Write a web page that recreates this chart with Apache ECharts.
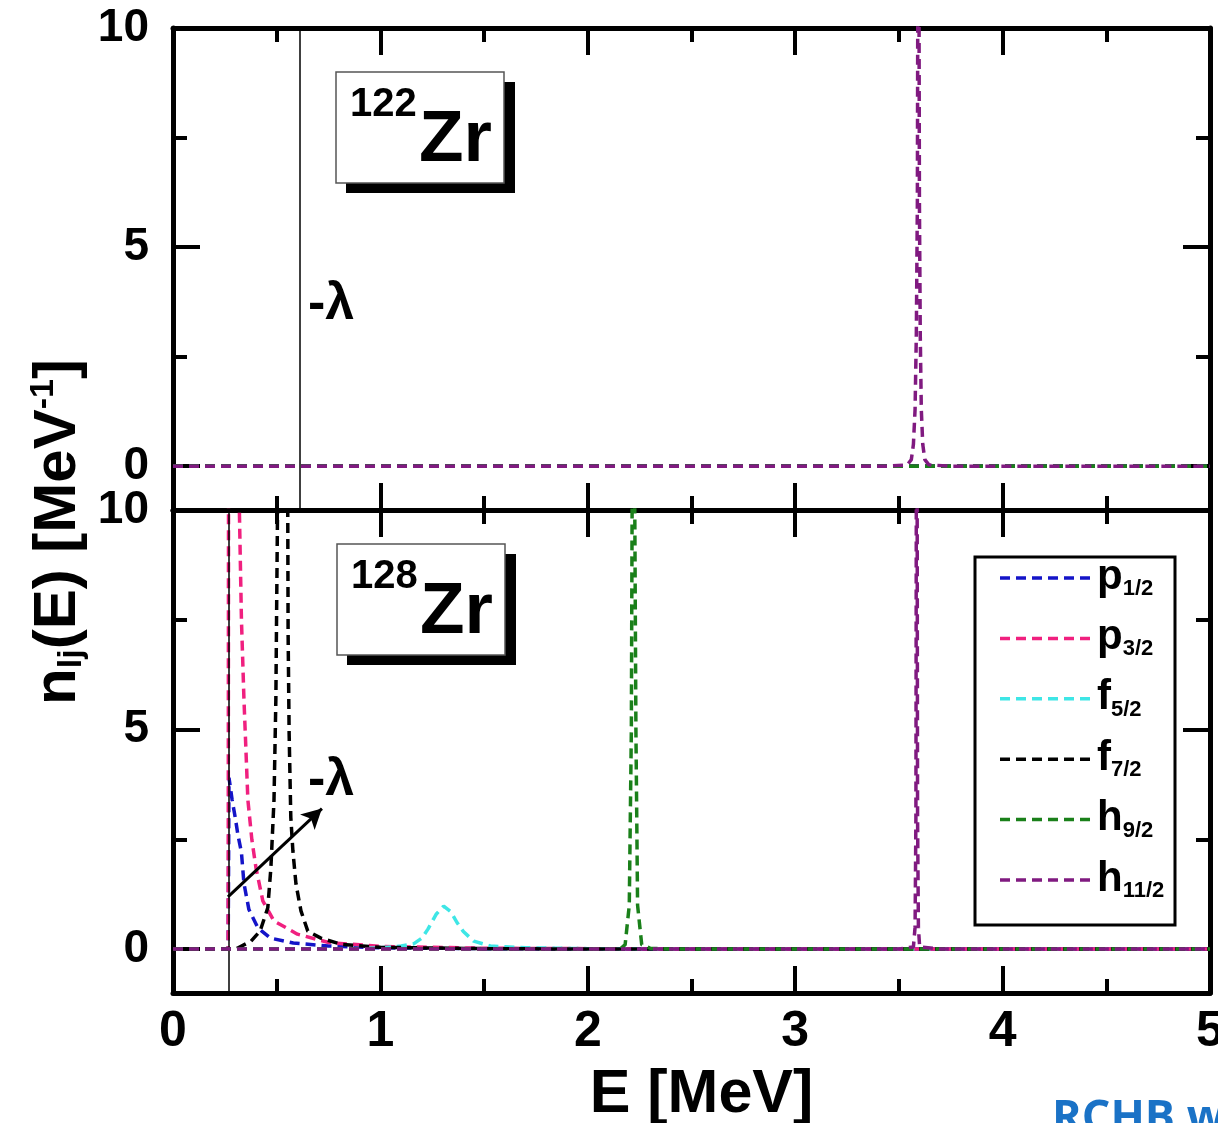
<!DOCTYPE html>
<html>
<head>
<meta charset="utf-8">
<script src="https://cdn.jsdelivr.net/npm/echarts@6/dist/echarts.min.js"></script>
<style>
  html, body { margin: 0; padding: 0; background: #fff; }
  #chart { width: 1218px; height: 1123px; }
</style>
</head>
<body>
<div id="chart"></div>
<script>
// ---- data ----
const orbitals = ["p", "p", "f", "f", "h", "h"];
const orbitalJ = ["1/2", "3/2", "5/2", "7/2", "9/2", "11/2"];
const orbitalColors = ["#1414c8", "#f0207f", "#3ee6e6", "#000000", "#1a801a", "#801a80"];

const yTicks = [0, 5, 10];
const yMinorTicks = [2.5, 7.5];

// -lambda positions [MeV]
const lambda122 = 0.607;
const lambda128 = 0.268;
const arrow128 = [[0.265, 1.19], [0.718, 3.2]];

// 122Zr: only h11/2 has a resonance, the rest lie on zero
const zr122_p12 = [[0, 0], [5, 0]];
const zr122_p32 = [[0, 0], [5, 0]];
const zr122_f52 = [[0, 0], [5, 0]];
const zr122_f72 = [[0, 0], [5, 0]];
const zr122_h92 = [[0, 0], [5, 0]];
const zr122_h112 = [[0, 0], [3.45, 0], [3.54, 0.03], [3.56, 0.15], [3.57, 0.5], [3.578, 1.3],
  [3.584, 3], [3.589, 6], [3.591, 10.5], [3.594, 20], [3.597, 10.5], [3.599, 6], [3.603, 3],
  [3.608, 1.3], [3.615, 0.5], [3.625, 0.15], [3.645, 0.03], [3.75, 0], [5, 0]];

// 128Zr
const zr128_p12 = [[0, 0], [0.266, 0], [0.27, 3.9], [0.285, 3.4], [0.30, 3.0], [0.313, 2.6],
  [0.33, 2.2], [0.342, 1.5], [0.366, 0.9], [0.41, 0.48], [0.47, 0.25], [0.58, 0.14],
  [0.75, 0.07], [1.0, 0.03], [1.5, 0.01], [2.0, 0], [5, 0]];
const zr128_p32 = [[0, 0], [0.266, 0], [0.268, 12], [0.29, 16], [0.318, 10.5], [0.33, 7.5],
  [0.342, 5.7], [0.361, 3.4], [0.38, 2.5], [0.40, 1.85], [0.433, 1.1], [0.487, 0.64],
  [0.60, 0.34], [0.75, 0.15], [1.0, 0.06], [1.5, 0.02], [2.5, 0], [5, 0]];
const zr128_f52 = [[0, 0], [0.8, 0], [1.0, 0.03], [1.1, 0.07], [1.16, 0.12], [1.2, 0.25],
  [1.23, 0.46], [1.27, 0.8], [1.305, 0.98], [1.34, 0.85], [1.37, 0.6], [1.40, 0.4],
  [1.45, 0.18], [1.53, 0.07], [1.7, 0.03], [2.0, 0.01], [2.5, 0], [5, 0]];
const zr128_f72 = [[0, 0], [0.3, 0], [0.31, 0.02], [0.376, 0.18], [0.42, 0.41], [0.457, 0.94],
  [0.472, 1.85], [0.487, 3.4], [0.496, 5.7], [0.50, 7.9], [0.505, 10.5], [0.53, 16],
  [0.553, 10.5], [0.555, 7.2], [0.56, 4.9], [0.568, 3.0], [0.578, 2.24], [0.593, 1.48],
  [0.617, 0.87], [0.65, 0.41], [0.713, 0.25], [0.81, 0.11], [1.0, 0.04], [1.5, 0.01],
  [2.0, 0], [5, 0]];
const zr128_h92 = [[0, 0], [2.1, 0], [2.16, 0.02], [2.18, 0.1], [2.2, 1.0], [2.21, 5],
  [2.214, 10.5], [2.22, 20], [2.226, 10.5], [2.232, 5], [2.24, 1.0], [2.26, 0.1],
  [2.3, 0.02], [2.4, 0], [5, 0]];
const zr128_h112 = [[0, 0], [3.5, 0], [3.57, 0.05], [3.578, 0.5], [3.582, 3], [3.584, 10.5],
  [3.586, 20], [3.588, 10.5], [3.590, 3], [3.594, 0.5], [3.60, 0.05], [3.7, 0], [5, 0]];

const zr122 = [zr122_p12, zr122_p32, zr122_f52, zr122_f72, zr122_h92, zr122_h112];
const zr128 = [zr128_p12, zr128_p32, zr128_f52, zr128_f72, zr128_h92, zr128_h112];

// ---- chart ----
const myChart = echarts.init(document.getElementById("chart"), null, { renderer: "canvas" });

const FONT = '"Liberation Sans", Arial, sans-serif';
const AXIS_W = 5;
const DASH = [10, 6];

// x axes: bottom + top for each panel
const makeX = (grid, position, labels) => ({
  type: "value",
  gridIndex: grid,
  position: position,
  min: 0,
  max: 5,
  interval: 1,
  axisLine: { show: true, onZero: false, lineStyle: { color: "#000", width: AXIS_W } },
  axisTick: { show: true, inside: true, length: 27, lineStyle: { color: "#000", width: 4 } },
  minorTick: { show: true, splitNumber: 2, length: 14, lineStyle: { color: "#000", width: 4 } },
  splitLine: { show: false },
  axisLabel: {
    show: labels,
    margin: 14,
    color: "#000",
    fontFamily: FONT,
    fontWeight: "bold",
    fontSize: 50,
  },
  name: labels ? "E [MeV]" : "",
  nameLocation: "middle",
  nameGap: 72,
  nameTextStyle: { color: "#000", fontFamily: FONT, fontWeight: "bold", fontSize: 61, padding: [0, 0, 0, 20] },
});

// y axes: major/minor ticks on left and right of each panel
const makeY = (grid, position, ticks, major, labels) => ({
  type: "value",
  gridIndex: grid,
  position: position,
  min: -1,
  max: 10,
  axisLine: { show: major, onZero: false, lineStyle: { color: "#000", width: AXIS_W } },
  axisTick: {
    show: true,
    inside: true,
    customValues: ticks,
    length: major ? 27 : 14,
    lineStyle: { color: "#000", width: 4 },
  },
  splitLine: { show: false },
  axisLabel: {
    show: labels,
    customValues: yTicks,
    margin: 24,
    color: "#000",
    fontFamily: FONT,
    fontWeight: "bold",
    fontSize: 46,
  },
});

const xAxes = [makeX(0, "bottom", false), makeX(0, "top", false), makeX(1, "bottom", true), makeX(1, "top", false)];
const yAxes = [];
[0, 1].forEach((g) => {
  yAxes.push(makeY(g, "left", yTicks, true, true));
  yAxes.push(makeY(g, "left", yMinorTicks, false, false));
  yAxes.push(makeY(g, "right", yTicks, true, false));
  yAxes.push(makeY(g, "right", yMinorTicks, false, false));
});

const series = [];
const panels = [zr122, zr128];
panels.forEach((panel, g) => {
  panel.forEach((pts, i) => {
    series.push({
      type: "line",
      name: orbitals[i] + orbitalJ[i],
      xAxisIndex: g * 2,
      yAxisIndex: g * 4,
      data: pts,
      symbol: "none",
      clip: true,
      lineStyle: { color: orbitalColors[i], width: 3.5, type: DASH },
      itemStyle: { color: orbitalColors[i] },
      z: 3 + i,
    });
  });
});

// -lambda line in each panel, arrow in the lower one
series[0].markLine = {
  silent: true,
  symbol: "none",
  label: { show: false },
  lineStyle: { color: "#000", width: 1.5, type: "solid" },
  data: [{ xAxis: lambda122 }],
};
series[6].markLine = {
  silent: true,
  symbol: "none",
  label: { show: false },
  lineStyle: { color: "#000", width: 1.5, type: "solid" },
  data: [
    { xAxis: lambda128 },
    [
      { coord: arrow128[0], symbol: "none", lineStyle: { width: 3 } },
      { coord: arrow128[1], symbol: "arrow", symbolSize: [16, 20], lineStyle: { width: 3 } },
    ],
  ],
};

// nucleus label boxes
const nucleusBox = (x, y, mass) => ({
  type: "group",
  x: x,
  y: y,
  children: [
    { type: "rect", shape: { x: 10, y: 10, width: 169, height: 111 }, style: { fill: "#000" } },
    { type: "rect", shape: { x: 0, y: 0, width: 168, height: 111 }, style: { fill: "#fff", stroke: "#555", lineWidth: 1.5 } },
    {
      type: "text",
      x: 14,
      y: 33,
      style: { text: mass, fill: "#000", font: "bold 40px " + FONT, verticalAlign: "middle" },
    },
    {
      type: "text",
      x: 83,
      y: 69,
      style: { text: "Zr", fill: "#000", font: "bold 73px " + FONT, verticalAlign: "middle" },
    },
  ],
});

// legend drawn by hand so the dashed samples match the curves
const legendChildren = [
  { type: "rect", shape: { x: 0, y: 0, width: 200, height: 368 }, style: { fill: "#fff", stroke: "#000", lineWidth: 3 } },
];
orbitals.forEach((o, i) => {
  const ly = 21 + i * 60.4;
  legendChildren.push({
    type: "line",
    shape: { x1: 25, y1: ly, x2: 115, y2: ly },
    style: { stroke: orbitalColors[i], lineWidth: 3.5, lineDash: DASH },
  });
  legendChildren.push({
    type: "text",
    x: 122,
    y: ly - 22,
    style: {
      text: "{m|" + o + "}{s|" + orbitalJ[i] + "}",
      fill: "#000",
      verticalAlign: "top",
      rich: {
        m: { fontFamily: FONT, fontWeight: "bold", fontSize: 42, lineHeight: 44, verticalAlign: "top" },
        s: { fontFamily: FONT, fontWeight: "bold", fontSize: 22, lineHeight: 1, verticalAlign: "bottom" },
      },
    },
  });
});

const graphics = [
  nucleusBox(336, 72, "122"),
  nucleusBox(337, 544, "128"),
  { type: "group", x: 975, y: 557, children: legendChildren },
  {
    type: "text",
    x: 308,
    y: 305,
    style: { text: "-λ", fill: "#000", font: "bold 52px " + FONT, verticalAlign: "middle" },
  },
  {
    type: "text",
    x: 308,
    y: 781,
    style: { text: "-λ", fill: "#000", font: "bold 52px " + FONT, verticalAlign: "middle" },
  },
  {
    type: "text",
    x: 58,
    y: 532,
    rotation: Math.PI / 2,
    style: {
      text: "{m|n}{s|lj}{m|(E) [MeV}{p|-1}{m|]}",
      fill: "#000",
      align: "center",
      verticalAlign: "middle",
      rich: {
        m: { fontFamily: FONT, fontWeight: "bold", fontSize: 60, lineHeight: 62 },
        s: { fontFamily: FONT, fontWeight: "bold", fontSize: 34, lineHeight: 1, verticalAlign: "bottom" },
        p: { fontFamily: FONT, fontWeight: "bold", fontSize: 34, lineHeight: 1, verticalAlign: "top" },
      },
    },
  },
  {
    type: "text",
    x: 1052,
    y: 1119,
    style: { text: "RCHB w", fill: "#1a72c6", font: 'bold 45px "Open Sans", sans-serif', verticalAlign: "middle" },
  },
];

myChart.setOption({
  animation: false,
  backgroundColor: "#fff",
  grid: [
    { left: 173, top: 28, width: 1037, height: 482, outerBoundsMode: "none", containLabel: false },
    { left: 173, top: 510, width: 1037, height: 483, outerBoundsMode: "none", containLabel: false },
  ],
  xAxis: xAxes,
  yAxis: yAxes,
  series: series,
  graphic: graphics,
});

window.addEventListener("resize", function () {
  myChart.resize();
});
</script>
</body>
</html>
